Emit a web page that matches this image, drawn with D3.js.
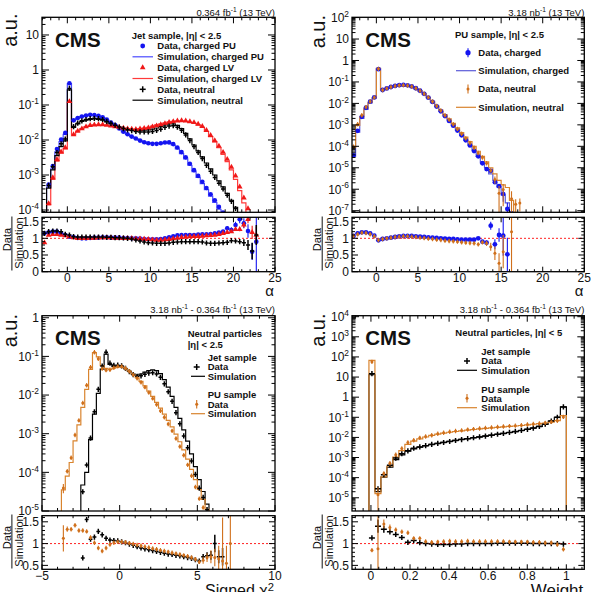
<!DOCTYPE html>
<html><head><meta charset="utf-8">
<script src="https://cdn.jsdelivr.net/npm/d3@7"></script>
<style>
body{margin:0;background:#fff}
text{font-family:"Liberation Sans",Arial,Helvetica,sans-serif;fill:#111}
</style>
</head><body>
<svg id="c" width="594" height="592"></svg>
<script>
// ---------------- DATA ----------------
// Panel 1: Jet sample, alpha
const jetAlpha = [-2.75,-2.25,-1.75,-1.25,-0.75,-0.25,0.25,0.75,1.25,1.75,2.25,2.75,3.25,3.75,4.25,4.75,5.25,5.75,6.25,6.75,7.25,7.75,8.25,8.75,9.25,9.75,10.25,10.75,11.25,11.75,12.25,12.75,13.25,13.75,14.25,14.75,15.25,15.75,16.25,16.75,17.25,17.75,18.25,18.75,19.25,19.75,20.25,20.75,21.25,21.75,22.25,22.75];
const jetSimPU = [6e-5,4.5e-4,1.5e-3,4.6e-3,9e-3,1.45e-2,0.40,0.035,0.042,0.047,0.050,0.052,0.051,0.048,0.043,0.037,0.031,0.026,0.021,0.017,0.0145,0.0125,0.011,0.0097,0.0088,0.0083,0.0080,0.0080,0.0082,0.0085,0.0083,0.0072,0.0056,0.0041,0.0029,0.0019,0.00125,0.00085,0.00057,0.00038,0.00025,0.000165,0.000105,0.00007,0.000042,0.000025,0.000015,0.00001,6e-6,4e-6,2.5e-6,1.5e-6];
const jetRatioPU = [1.15,1.18,1.2,1.2,1.15,1.1,1.05,1.04,1.01,1.0,1.0,1.01,1.02,1.02,1.03,1.03,1.02,1.02,1.02,1.01,1.01,1.0,1.0,0.99,0.98,0.97,0.97,0.97,0.98,1.0,1.03,1.06,1.09,1.1,1.1,1.1,1.1,1.11,1.12,1.12,1.13,1.15,1.17,1.2,1.3,1.25,1.4,1.57,1.45,1.22,0.6,0.9];
const jetErrPU = [[18.75,0.05],[19.25,0.07],[19.75,0.08],[20.25,0.1],[20.75,0.12],[21.25,0.15],[21.75,0.2],[22.25,0.25],[22.75,1.2]];
const jetSimLV = [3e-5,1.4e-4,7.5e-4,2.5e-3,4.2e-3,5.6e-3,0.12,0.014,0.018,0.021,0.024,0.026,0.027,0.027,0.027,0.026,0.025,0.024,0.023,0.022,0.021,0.0205,0.0205,0.021,0.022,0.023,0.025,0.027,0.029,0.031,0.033,0.034,0.035,0.035,0.034,0.032,0.03,0.027,0.023,0.0175,0.0125,0.0088,0.006,0.0039,0.0024,0.0014,0.00075,0.00036,0.00016,7e-5,3e-5,1.2e-5];
const jetRatioLV = [0.87,1.1,1.12,1.12,1.1,1.08,1.05,1.02,1.0,1.0,1.0,1.01,1.01,1.02,1.02,1.02,1.02,1.01,1.01,1.0,1.0,1.0,0.99,0.99,0.98,0.97,0.96,0.95,0.95,0.96,0.97,0.99,1.01,1.03,1.04,1.05,1.06,1.06,1.07,1.08,1.09,1.1,1.12,1.15,1.18,1.2,1.27,1.27,1.4,1.57,1.18,1.1];
const jetErrLV = [[20.25,0.05],[20.75,0.06],[21.25,0.08],[21.75,0.12],[22.25,0.2],[22.75,0.25]];
const jetSimNeu = [6e-5,4.2e-4,1.4e-3,3.6e-3,6.5e-3,9.5e-3,0.27,0.023,0.029,0.034,0.037,0.039,0.040,0.039,0.037,0.033,0.029,0.026,0.023,0.021,0.0195,0.019,0.0185,0.0185,0.019,0.0195,0.0205,0.022,0.024,0.027,0.029,0.029,0.026,0.021,0.0155,0.0107,0.0072,0.0049,0.0033,0.0022,0.0015,0.001,0.00068,0.00046,0.0003,0.00019,0.00012,7e-5,4e-5,2.2e-5,1.2e-5,7e-6];
const jetRatioNeu = [1.15,1.2,1.22,1.22,1.2,1.12,1.1,1.05,1.04,1.04,1.04,1.04,1.04,1.04,1.04,1.03,1.03,1.02,1.02,1.01,1.0,0.98,0.95,0.92,0.89,0.87,0.86,0.85,0.85,0.85,0.86,0.88,0.89,0.9,0.9,0.9,0.9,0.9,0.89,0.86,0.85,0.85,0.86,0.87,0.88,0.93,0.92,0.9,0.87,0.8,0.62,1.1];
const jetErrNeu = [[19.25,0.03],[19.75,0.05],[20.25,0.06],[20.75,0.08],[21.25,0.1],[21.75,0.15],[22.25,0.25],[22.75,0.3]];

// Panel 2: PU sample, alpha
const puAlpha = [-2.75,-2.25,-1.75,-1.25,-0.75,-0.25,0.25,0.75,1.25,1.75,2.25,2.75,3.25,3.75,4.25,4.75,5.25,5.75,6.25,6.75,7.25,7.75,8.25,8.75,9.25,9.75,10.25,10.75,11.25,11.75,12.25,12.75,13.25,13.75,14.25,14.75,15.25,15.75,16.25,16.75,17.25];
const puSimCh = [3.5e-5,4.6e-4,2.0e-3,5.3e-3,1.05e-2,1.75e-2,0.42,0.043,0.05,0.057,0.063,0.067,0.068,0.065,0.058,0.048,0.037,0.027,0.018,0.0115,0.0071,0.0043,0.0026,0.00155,0.00093,0.00056,0.00034,0.0002,0.000115,6.3e-5,3.4e-5,1.8e-5,1.0e-5,5.2e-6,2.6e-6,1.25e-6,5.5e-7,2.3e-7,9e-8,3.5e-8,0];
const puRatioCh = [1.07,1.15,1.18,1.18,1.15,1.08,0.94,0.98,1.0,1.02,1.04,1.06,1.07,1.07,1.07,1.06,1.05,1.04,1.03,1.02,1.01,1.0,0.99,0.98,0.98,0.97,0.96,0.96,0.96,0.96,1.0,0.9,0.87,1.38,0.82,1.1,1.08,0.52,null,null,null];
const puErrCh = [[12.25,0.04],[12.75,0.05],[13.25,0.07],[13.75,0.12],[14.25,0.15],[14.75,0.2],[15.25,0.6],[15.75,0.5]];
const puSimNe = [9e-5,9.5e-4,2.4e-3,5.8e-3,1.1e-2,1.8e-2,0.43,0.043,0.05,0.057,0.062,0.066,0.067,0.064,0.058,0.049,0.038,0.028,0.0192,0.0125,0.0079,0.0049,0.003,0.0019,0.00117,0.00072,0.00044,0.00027,0.000165,0.0001,5.9e-5,3.4e-5,1.9e-5,1.0e-5,5.2e-6,2.6e-6,1.6e-6,1.2e-6,3e-7,0,0];
const puRatioNe = [1.07,1.12,1.17,1.16,1.12,1.06,0.95,0.98,1.0,1.02,1.04,1.05,1.06,1.06,1.05,1.04,1.02,1.01,0.99,0.98,0.96,0.95,0.93,0.92,0.91,0.9,0.88,0.87,0.86,0.85,0.82,0.88,0.85,0.75,0.55,0.25,0.6,null,1.2,null,null];
const puErrNe = [[11.75,0.03],[12.25,0.05],[12.75,0.06],[13.25,0.08],[13.75,0.12],[14.25,0.2],[14.75,0.3],[15.25,0.5],[16.25,1.5]];
const puExtraNe = [[16.75,2.0e-7,0.7],[17.25,2.3e-7,0.6]]; // data-only points: [alpha, value, rel. error]

// Panel 3: Neutral particles, signed chi2
const chiBins = [-3.625,-3.375,-3.125,-2.875,-2.625,-2.375,-2.125,-1.875,-1.625,-1.375,-1.125,-0.875,-0.625,-0.375,-0.125,0.125,0.375,0.625,0.875,1.125,1.375,1.625,1.875,2.125,2.375,2.625,2.875,3.125,3.375,3.625,3.875,4.125,4.375,4.625,4.875,5.125,5.375,5.625,5.875,6.125,6.375,6.625,6.875,7.125];
const chiSimJet = [0,0,0,0,0,4.7e-5,1.0e-4,7e-4,3.2e-3,0.011,0.047,0.115,0.062,0.055,0.056,0.055,0.048,0.041,0.035,0.033,0.035,0.039,0.043,0.045,0.043,0.036,0.025,0.016,0.0092,0.0048,0.0025,0.00125,0.00064,0.0003,0.00014,6.5e-5,3.2e-5,1.5e-5,7e-6,4e-6,2.5e-6,1.5e-6,1e-6,0];
const chiRatioJet = [null,null,null,null,null,0.67,1.55,1.1,1.15,1.28,1.2,1.12,1.08,1.07,1.06,1.04,1.02,0.99,0.96,0.93,0.9,0.88,0.86,0.84,0.82,0.8,0.78,0.76,0.75,0.73,0.72,0.7,0.68,0.66,0.63,0.6,0.7,0.72,0.73,1.0,0.7,0.7,null,null];
const chiErrJet = [[-2.375,0.06],[-2.125,0.05],[-1.875,0.03],[4.875,0.03],[5.125,0.04],[5.375,0.06],[5.625,0.08],[5.875,0.1],[6.125,0.2],[6.375,0.15],[6.625,0.2]];
const chiSimPU = [3.5e-5,8e-5,1.8e-4,6.5e-4,1.7e-3,4.8e-3,0.014,0.046,0.125,0.097,0.058,0.049,0.046,0.05,0.053,0.053,0.048,0.041,0.034,0.028,0.0225,0.0172,0.0127,0.0092,0.0065,0.0046,0.0032,0.0022,0.0015,0.00098,0.00062,0.00038,0.00022,0.00012,6.5e-5,3.6e-5,2e-5,1.1e-5,6e-6,4e-6,3e-6,2e-6,1.5e-6,1e-6];
const chiRatioPU = [1.12,1.33,1.33,1.42,1.3,1.3,1.28,1.14,1.02,0.9,0.83,0.9,0.98,1.02,1.04,1.04,1.03,1.01,0.99,0.97,0.95,0.93,0.91,0.89,0.87,0.85,0.83,0.81,0.79,0.77,0.75,0.73,0.71,0.68,0.64,0.58,0.62,0.68,0.7,0.68,0.65,0.6,0.55,1.0];
const chiErrPU = [[-3.625,0.3],[-3.375,0.06],[-3.125,0.05],[-2.875,0.04],[5.125,0.04],[5.375,0.08],[5.625,0.1],[5.875,0.15],[6.125,0.2],[6.375,0.3],[6.625,1.0],[6.875,0.4],[7.125,1.0]];

// Panel 4: Neutral particles, weight
const wBins = [0.005,0.036,0.066,0.097,0.127,0.158,0.189,0.219,0.25,0.28,0.311,0.342,0.372,0.403,0.433,0.464,0.495,0.525,0.556,0.586,0.617,0.648,0.678,0.709,0.739,0.77,0.801,0.831,0.862,0.892,0.923,0.954,0.985];
const wSimJet = [13,2e-5,1.05e-4,3.3e-4,7.8e-4,1.35e-3,2.1e-3,2.7e-3,3.3e-3,3.9e-3,4.5e-3,5.1e-3,5.7e-3,6.4e-3,7.1e-3,7.9e-3,8.7e-3,9.6e-3,0.0106,0.0117,0.0129,0.0142,0.0157,0.0175,0.0196,0.022,0.025,0.029,0.035,0.045,0.065,0.1,0.33];
const wRatioJet = [1.13,1.4,1.33,1.27,1.21,1.14,1.03,1.07,1.02,1.0,0.99,0.98,0.98,0.98,0.99,0.99,1.0,1.0,1.0,1.0,1.0,1.01,1.01,1.01,1.01,1.01,1.01,1.0,1.0,1.0,1.0,1.0,0.99];
const wErrJet = [[0.036,0.15],[0.066,0.08],[0.097,0.05],[0.127,0.04]];
const wSimPU = [67,1.6e-5,1.1e-4,3.8e-4,1.05e-3,2.2e-3,4.5e-3,6.5e-3,8.5e-3,0.0105,0.0125,0.0145,0.0163,0.018,0.0197,0.0213,0.023,0.0247,0.0264,0.028,0.0297,0.0315,0.0333,0.035,0.037,0.039,0.042,0.045,0.048,0.052,0.058,0.068,0.12];
const wRatioPU = [0.85,0.88,1.45,1.37,1.32,1.27,1.25,1.12,1.12,1.05,1.03,1.04,1.05,1.06,1.05,1.05,1.06,1.05,1.05,1.05,1.05,1.05,1.05,1.04,1.04,1.04,1.04,1.03,1.03,1.02,1.02,0.98,0.87];
const wErrPU = [[0.036,1.2],[0.066,0.1],[0.097,0.07],[0.127,0.05]];

// Tick labels
const alphaTicks = [0,5,10,15,20,25];
const chiTicks = [-5,0,5,10], chiTickLabels = ["\u22125","0","5","10"];
const wTicks = [0,0.2,0.4,0.6,0.8,1], wTickLabels = ["0","0.2","0.4","0.6","0.8","1"];
const jetYExp = [-4,-3,-2,-1,0,1];
const puYExp = [-7,-6,-5,-4,-3,-2,-1,0,1,2];
const chiYExp = [-5,-4,-3,-2,-1,0];
const wYExp = [-5,-4,-3,-2,-1,0,1,2,3,4];
const ratioTicksA = [0,0.5,1,1.5], ratioLabelsA = ["0","0.5","1","1.5"];
const ratioTicksB = [0.5,1,1.5], ratioLabelsB = ["0.5","1","1.5"];

// Colours
const BLUE = "#1414f0", BLUE_L = "#4a4aff", RED = "#f01818", RED_L = "#ff3a3a";
const ORANGE = "#d0701c", ORANGE_L = "#d9842e", PUBLUE_L = "#5b5bd8";

// ---------------- DRAWING ----------------
const svg = d3.select("#c");
const defs = svg.append("defs");

function rich(g, x, y, parts, size, anchor, weight, supShift) {
  const sh = supShift || 0.42;
  const t = g.append("text").attr("x", x).attr("y", y).attr("font-size", size)
    .attr("text-anchor", anchor || "start").attr("font-weight", weight || "normal");
  let up = false;
  parts.forEach(p => {
    const ts = t.append("tspan").text(p.t);
    if (p.sup) { ts.attr("font-size", size * 0.7); if (!up) { ts.attr("dy", -size * sh); up = true; } }
    else if (up) { ts.attr("dy", size * sh); up = false; }
  });
  return t;
}
function logLabel(e) {
  if (e === 0) return [{t: "1"}];
  if (e === 1) return [{t: "10"}];
  return [{t: "10"}, {t: (e < 0 ? "-" : "") + Math.abs(e), sup: true}];
}
function line(g, x1, y1, x2, y2, col, w) {
  g.append("line").attr("x1", x1).attr("y1", y1).attr("x2", x2).attr("y2", y2)
    .attr("stroke", col).attr("stroke-width", w || 1);
}
const key = v => Math.round(v * 1000);

function stepPath(s, x, y, B) {
  const w = s.width, ymin = y.domain()[0], yb = B + 4, pts = [];
  pts.push([x(s.bins[0] - w / 2), yb]);
  s.sim.forEach((v, i) => {
    const yy = (v && v > ymin) ? y(v) : yb;
    pts.push([x(s.bins[i] - w / 2), yy], [x(s.bins[i] + w / 2), yy]);
  });
  pts.push([x(s.bins[s.bins.length - 1] + w / 2), yb]);
  return d3.line()(pts);
}

function marker(g, s, cx, cy, yLo, yHi, xl, xr) {
  const c = s.color;
  if (s.mk === "circle") {
    if (yLo - yHi > 1) line(g, cx, yHi, cx, yLo, c, 1.1);
    g.append("circle").attr("cx", cx).attr("cy", cy).attr("r", s.r || 2.2).attr("fill", c);
  } else if (s.mk === "tri") {
    if (yLo - yHi > 1) line(g, cx, yHi, cx, yLo, c, 1.1);
    g.append("path").attr("d", d3.symbol(d3.symbolTriangle, 14)())
      .attr("transform", `translate(${cx},${cy})`).attr("fill", c);
  } else if (s.mk === "cross") {
    line(g, xl, cy, xr, cy, c, 1.5);
    line(g, cx, Math.min(cy - 2.6, yHi), cx, Math.max(cy + 2.6, yLo), c, 1.5);
  } else if (s.mk === "dot") {
    line(g, cx, Math.min(cy - 2.2, yHi), cx, Math.max(cy + 2.2, yLo), c, 1.1);
    g.append("circle").attr("cx", cx).attr("cy", cy).attr("r", 1.5).attr("fill", c);
  }
}

function drawData(gm, gr, s, x, y, yr, B) {
  const errs = new Map(s.err.map(d => [key(d[0]), d[1]]));
  const ymin = y.domain()[0];
  s.bins.forEach((c, i) => {
    const r = s.ratio[i], m = s.sim[i];
    if (r == null) return;
    const e = errs.get(key(c)) || 0;
    const xl = x(c - s.width / 2), xr = x(c + s.width / 2);
    marker(gr, s, x(c), yr(r), yr(r - e), yr(r + e), xl, xr);
    if (!m) return;
    const v = m * r, rel = e / r;
    if (v <= 0) return;
    const lo = v * (1 - rel);
    const pyLo = lo > ymin ? y(lo) : B + 6;
    marker(gm, s, x(c), y(v), pyLo, y(v * (1 + rel)), xl, xr);
  });
  (s.extra || []).forEach(d => {
    const v = d[1], lo = v * (1 - d[2]);
    marker(gm, s, x(d[0]), y(v), lo > ymin ? y(lo) : B + 6, y(v * (1 + d[2])),
      x(d[0] - s.width / 2), x(d[0] + s.width / 2));
  });
}

function panel(cfg) {
  const g = svg.append("g");
  const {L, R, T, B, rT, rB, id} = cfg;
  const x = d3.scaleLinear().domain(cfg.xDom).range([L, R]);
  const y = d3.scaleLog().domain(cfg.yDom).range([B, T]);
  const yr = d3.scaleLinear().domain(cfg.rDom).range([rB, rT]);
  defs.append("clipPath").attr("id", id + "m").append("rect").attr("x", L).attr("y", T).attr("width", R - L).attr("height", B - T);
  defs.append("clipPath").attr("id", id + "r").append("rect").attr("x", L).attr("y", rT).attr("width", R - L).attr("height", rB - rT);
  const gm = g.append("g").attr("clip-path", `url(#${id}m)`);
  const gr = g.append("g").attr("clip-path", `url(#${id}r)`);
  gr.append("line").attr("x1", L).attr("x2", R).attr("y1", yr(1)).attr("y2", yr(1))
    .attr("stroke", "#ff2020").attr("stroke-width", 1).attr("stroke-dasharray", "2,2");
  cfg.series.forEach(s => {
    gm.append("path").attr("d", stepPath(s, x, y, B)).attr("fill", "none")
      .attr("stroke", s.line).attr("stroke-width", 1.2);
  });
  cfg.series.forEach(s => drawData(gm, gr, s, x, y, yr, B));

  // axes / ticks
  const ax = g.append("g");
  const xMin = d3.range(Math.ceil(cfg.xDom[0] / cfg.xMinStep) * cfg.xMinStep, cfg.xDom[1] + 1e-9, cfg.xMinStep);
  xMin.forEach(v => {
    const px = x(v);
    const maj = cfg.xTicks.some(t => Math.abs(t - v) < 1e-6);
    const lm = maj ? 6 : 3, lr = maj ? 5 : 2.5;
    line(ax, px, B, px, B - lm, "#000"); line(ax, px, T, px, T + lm, "#000");
    line(ax, px, rB, px, rB - lr, "#000"); line(ax, px, rT, px, rT + lr, "#000");
  });
  const [y0, y1] = cfg.yDom;
  for (let k = Math.floor(Math.log10(y0)); k <= Math.ceil(Math.log10(y1)); k++) {
    for (let m = 1; m <= 9; m++) {
      const v = m * Math.pow(10, k);
      if (v < y0 || v > y1) continue;
      const len = m === 1 ? 7 : 3.5, py = y(v);
      line(ax, L, py, L + len, py, "#000"); line(ax, R, py, R - len, py, "#000");
    }
  }
  const rMin = d3.range(Math.ceil(cfg.rDom[0] * 10) / 10, cfg.rDom[1] + 1e-9, 0.1);
  rMin.forEach(v => {
    const maj = cfg.rTicks.some(t => Math.abs(t - v) < 1e-6);
    const len = maj ? 6 : 3, py = yr(v);
    line(ax, L, py, L + len, py, "#000"); line(ax, R, py, R - len, py, "#000");
  });
  g.append("rect").attr("x", L).attr("y", T).attr("width", R - L).attr("height", B - T)
    .attr("fill", "none").attr("stroke", "#000").attr("stroke-width", 1.3);
  g.append("rect").attr("x", L).attr("y", rT).attr("width", R - L).attr("height", rB - rT)
    .attr("fill", "none").attr("stroke", "#000").attr("stroke-width", 1.3);

  // labels
  cfg.yExp.forEach(e => rich(g, L - 3, y(Math.pow(10, e)) + 4.3, logLabel(e), 12, "end"));
  cfg.rTicks.forEach((v, i) => g.append("text").attr("x", L - 3).attr("y", yr(v) + 4.2)
    .attr("font-size", 12).attr("text-anchor", "end").text(cfg.rLabels[i]));
  cfg.xTicks.forEach((v, i) => g.append("text").attr("x", x(v)).attr("y", rB + 10.5)
    .attr("font-size", 12).attr("text-anchor", "middle").text(cfg.xLabels[i]));
  return {g, x, y, yr};
}

function decorate(g, c) {
  g.append("text").attr("x", c.cmsX).attr("y", c.cmsY).attr("font-size", 20.5)
    .attr("font-weight", "bold").text("CMS");
  g.append("text").attr("transform", `translate(${c.auX},${c.auY}) rotate(-90)`)
    .attr("font-size", 20).attr("text-anchor", "end").text("a.u.");
  rich(g, c.R, c.lumiY, c.lumi, 9.5, "end");
  g.append("text").attr("transform", `translate(${c.fX},${c.fY - 4}) rotate(-90)`)
    .attr("font-size", 11).attr("text-anchor", "middle").text("Data");
  line(g, c.fX + 1.2, c.fY - 27, c.fX + 1.2, c.fY + 27, "#111", 1);
  g.append("text").attr("transform", `translate(${c.fX + 12},${c.fY - 0.5}) rotate(-90)`)
    .attr("font-size", 11).attr("text-anchor", "middle").text("Simulation");
  rich(g, c.R - 1, c.xtY, c.xt, c.xtSize, "end", "normal", 0.3);
}

// ---------- Panel 1 ----------
const p1 = panel({
  id: "p1", L: 42, R: 275, T: 17.3, B: 212.3, rT: 217.3, rB: 271.7,
  xDom: [-3.05, 25], yDom: [8.6e-5, 32], rDom: [0, 1.63],
  xTicks: alphaTicks, xLabels: alphaTicks.map(String), xMinStep: 1,
  yExp: jetYExp, rTicks: ratioTicksA, rLabels: ratioLabelsA,
  series: [
    {bins: jetAlpha, width: 0.5, sim: jetSimPU, ratio: jetRatioPU, err: jetErrPU, color: BLUE, line: BLUE_L, mk: "circle", r: 2.3},
    {bins: jetAlpha, width: 0.5, sim: jetSimLV, ratio: jetRatioLV, err: jetErrLV, color: RED, line: RED_L, mk: "tri"},
    {bins: jetAlpha, width: 0.5, sim: jetSimNeu, ratio: jetRatioNeu, err: jetErrNeu, color: "#000", line: "#000", mk: "cross"}
  ]
});
decorate(p1.g, {cmsX: 55, cmsY: 46.7, auX: 17, auY: 13.5, R: 275, lumiY: 15.5,
  lumi: [{t: "0.364 fb"}, {t: "-1", sup: true}, {t: " (13 TeV)"}],
  fX: 10.7, fY: 243.5, xtY: 296, xt: [{t: "\u03b1"}], xtSize: 15});
{
  const g = p1.g;
  g.append("text").attr("x", 131.7).attr("y", 38.5).attr("font-size", 9.5).attr("font-weight", "bold").text("Jet sample, |\u03b7| < 2.5");
  const rows = [46, 56.8, 67.6, 78.5, 89.3, 100.2];
  const labs = ["Data, charged PU", "Simulation, charged PU", "Data, charged LV", "Simulation, charged LV", "Data, neutral", "Simulation, neutral"];
  labs.forEach((t, i) => g.append("text").attr("x", 157.3).attr("y", rows[i] + 3.4).attr("font-size", 9.5).attr("font-weight", "bold").text(t));
  g.append("circle").attr("cx", 142.7).attr("cy", rows[0]).attr("r", 2.4).attr("fill", BLUE);
  line(g, 132.5, rows[1], 153, rows[1], BLUE_L, 1.2);
  g.append("path").attr("d", d3.symbol(d3.symbolTriangle, 14)()).attr("transform", `translate(142.7,${rows[2]})`).attr("fill", RED);
  line(g, 132.5, rows[3], 153, rows[3], RED_L, 1.2);
  line(g, 139.7, rows[4], 145.7, rows[4], "#000", 1.5); line(g, 142.7, rows[4] - 3, 142.7, rows[4] + 3, "#000", 1.5);
  line(g, 132.5, rows[5], 153, rows[5], "#000", 1.2);
}

// ---------- Panel 2 ----------
const p2 = panel({
  id: "p2", L: 352, R: 584.3, T: 17.3, B: 212.3, rT: 217.3, rB: 271.7,
  xDom: [-2.93, 25], yDom: [8.4e-8, 103], rDom: [0, 1.63],
  xTicks: alphaTicks, xLabels: alphaTicks.map(String), xMinStep: 1,
  yExp: puYExp, rTicks: ratioTicksA, rLabels: ratioLabelsA,
  series: [
    {bins: puAlpha, width: 0.5, sim: puSimCh, ratio: puRatioCh, err: puErrCh, color: BLUE, line: PUBLUE_L, mk: "circle", r: 2.4},
    {bins: puAlpha, width: 0.5, sim: puSimNe, ratio: puRatioNe, err: puErrNe, color: ORANGE, line: ORANGE_L, mk: "dot", extra: puExtraNe}
  ]
});
decorate(p2.g, {cmsX: 365.3, cmsY: 46.7, auX: 325.3, auY: 15, R: 584.3, lumiY: 15.5,
  lumi: [{t: "3.18 nb"}, {t: "-1", sup: true}, {t: " (13 TeV)"}],
  fX: 321, fY: 243.5, xtY: 296, xt: [{t: "\u03b1"}], xtSize: 15});
{
  const g = p2.g;
  g.append("text").attr("x", 455).attr("y", 38.3).attr("font-size", 9.5).attr("font-weight", "bold").text("PU sample, |\u03b7| < 2.5");
  const rows = [52.7, 70.7, 89, 107.3];
  const labs = ["Data, charged", "Simulation, charged", "Data, neutral", "Simulation, neutral"];
  labs.forEach((t, i) => g.append("text").attr("x", 478.3).attr("y", rows[i] + 3.4).attr("font-size", 9.5).attr("font-weight", "bold").text(t));
  line(g, 468, rows[0] - 4.5, 468, rows[0] + 4.5, BLUE, 1.1);
  g.append("circle").attr("cx", 468).attr("cy", rows[0]).attr("r", 2.6).attr("fill", BLUE);
  line(g, 456, rows[1], 476, rows[1], PUBLUE_L, 1.2);
  line(g, 468, rows[2] - 4.5, 468, rows[2] + 4.5, ORANGE, 1.1);
  g.append("circle").attr("cx", 468).attr("cy", rows[2]).attr("r", 1.5).attr("fill", ORANGE);
  line(g, 456, rows[3], 476, rows[3], ORANGE_L, 1.2);
}

// ---------- Panel 3 ----------
const p3 = panel({
  id: "p3", L: 42, R: 275, T: 315.7, B: 511, rT: 515.7, rB: 569.3,
  xDom: [-5, 10], yDom: [1e-5, 1.13], rDom: [0.41, 1.64],
  xTicks: chiTicks, xLabels: chiTickLabels, xMinStep: 1,
  yExp: chiYExp, rTicks: ratioTicksB, rLabels: ratioLabelsB,
  series: [
    {bins: chiBins, width: 0.25, sim: chiSimJet, ratio: chiRatioJet, err: chiErrJet, color: "#000", line: "#000", mk: "cross"},
    {bins: chiBins, width: 0.25, sim: chiSimPU, ratio: chiRatioPU, err: chiErrPU, color: ORANGE, line: ORANGE_L, mk: "dot"}
  ]
});
decorate(p3.g, {cmsX: 55, cmsY: 345, auX: 17, auY: 314, R: 275, lumiY: 313,
  lumi: [{t: "3.18 nb"}, {t: "-1", sup: true}, {t: " - 0.364 fb"}, {t: "-1", sup: true}, {t: " (13 TeV)"}],
  fX: 10.7, fY: 541.5, xtY: 596, xt: [{t: "Signed \u03c7"}, {t: "2", sup: true}], xtSize: 16});
{
  const g = p3.g;
  const B = (x, y, t) => g.append("text").attr("x", x).attr("y", y).attr("font-size", 9.5).attr("font-weight", "bold").text(t);
  B(187.7, 336.5, "Neutral particles"); B(187.7, 348.2, "|\u03b7| < 2.5");
  B(207.7, 360.9, "Jet sample"); B(207.7, 370.2, "Data"); B(207.7, 379.5, "Simulation");
  B(207.7, 398.2, "PU sample"); B(207.7, 407.5, "Data"); B(207.7, 416.9, "Simulation");
  line(g, 193.7, 367, 199.7, 367, "#000", 1.5); line(g, 196.7, 364, 196.7, 370, "#000", 1.5);
  line(g, 191, 376.3, 205, 376.3, "#000", 1.2);
  line(g, 196.7, 400, 196.7, 408.6, ORANGE, 1.1);
  g.append("circle").attr("cx", 196.7).attr("cy", 404.3).attr("r", 1.5).attr("fill", ORANGE);
  line(g, 191, 413.7, 205, 413.7, ORANGE_L, 1.2);
}

// ---------- Panel 4 ----------
const p4 = panel({
  id: "p4", L: 352, R: 584.3, T: 315.7, B: 511, rT: 515.7, rB: 569.3,
  xDom: [-0.097, 1.092], yDom: [2.2e-6, 1.12e4], rDom: [0.41, 1.64],
  xTicks: wTicks, xLabels: wTickLabels, xMinStep: 0.04,
  yExp: wYExp, rTicks: ratioTicksB, rLabels: ratioLabelsB,
  series: [
    {bins: wBins, width: 0.0306, sim: wSimJet, ratio: wRatioJet, err: wErrJet, color: "#000", line: "#000", mk: "cross"},
    {bins: wBins, width: 0.0306, sim: wSimPU, ratio: wRatioPU, err: wErrPU, color: ORANGE, line: ORANGE_L, mk: "dot"}
  ]
});
decorate(p4.g, {cmsX: 365.3, cmsY: 345, auX: 325.3, auY: 313.5, R: 584.3, lumiY: 313,
  lumi: [{t: "3.18 nb"}, {t: "-1", sup: true}, {t: " - 0.364 fb"}, {t: "-1", sup: true}, {t: " (13 TeV)"}],
  fX: 321, fY: 541.5, xtY: 596, xt: [{t: "Weight"}], xtSize: 17});
{
  const g = p4.g;
  const B = (x, y, t) => g.append("text").attr("x", x).attr("y", y).attr("font-size", 9.5).attr("font-weight", "bold").text(t);
  B(455.3, 336.2, "Neutral particles, |\u03b7| < 5");
  B(481.3, 354.9, "Jet sample"); B(481.3, 364.2, "Data"); B(481.3, 373.5, "Simulation");
  B(481.3, 392.5, "PU sample"); B(481.3, 401.5, "Data"); B(481.3, 410.9, "Simulation");
  line(g, 464, 361, 470, 361, "#000", 1.5); line(g, 467, 358, 467, 364, "#000", 1.5);
  line(g, 457, 370.3, 477, 370.3, "#000", 1.2);
  line(g, 467, 394, 467, 402.6, ORANGE, 1.1);
  g.append("circle").attr("cx", 467).attr("cy", 398.3).attr("r", 1.5).attr("fill", ORANGE);
  line(g, 457, 407.7, 477, 407.7, ORANGE_L, 1.2);
}
</script>
</body></html>
